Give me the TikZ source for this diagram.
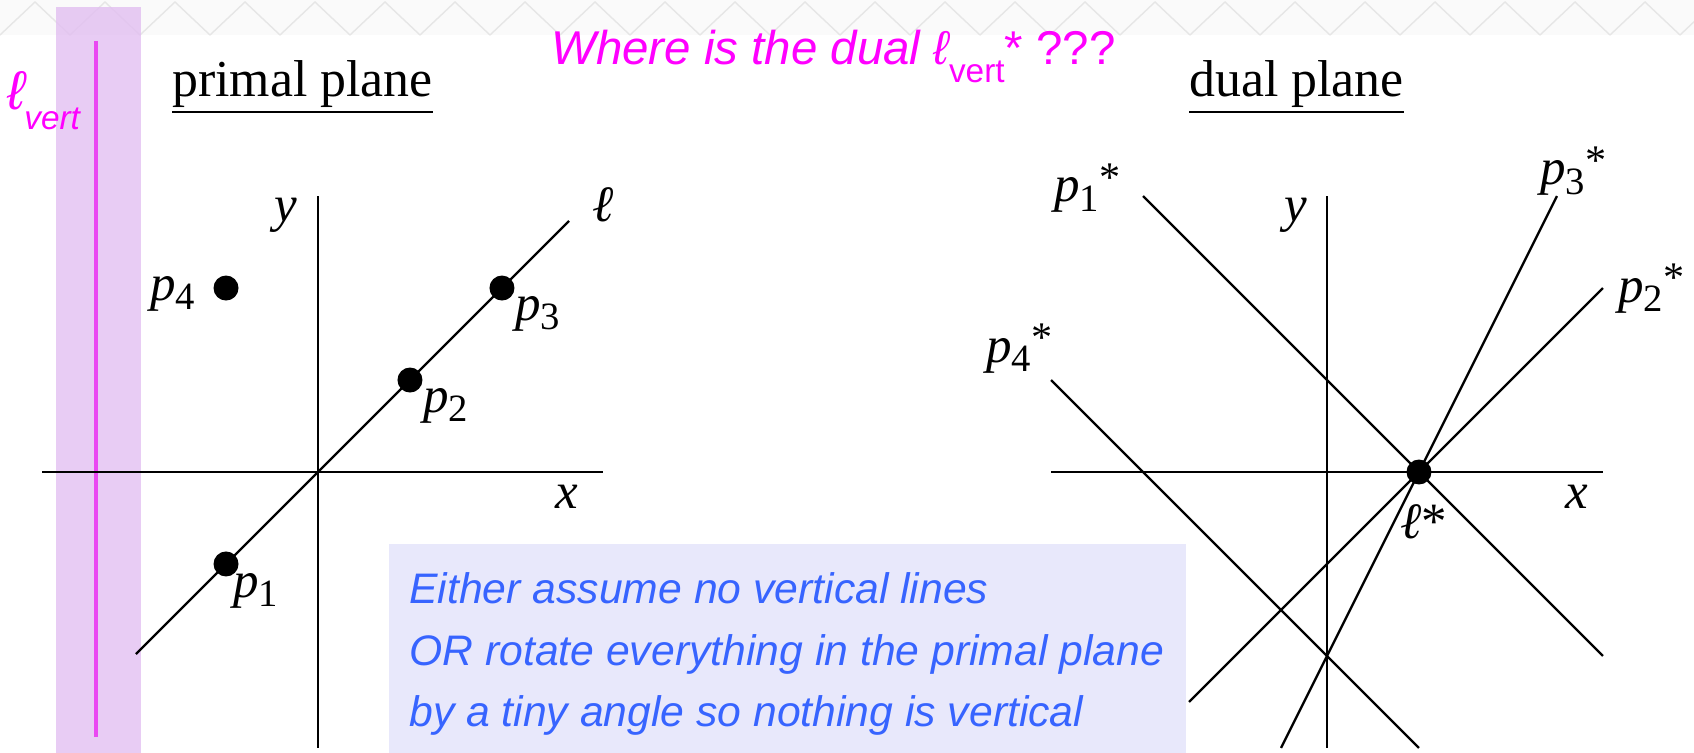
\documentclass[tikz,border=0pt]{standalone}
\usepackage{fontspec}
\setmainfont{Liberation Serif}
\setsansfont{Liberation Sans}
\usetikzlibrary{positioning}

\definecolor{slidegray}{RGB}{250,250,250}
\definecolor{patterngray}{RGB}{230,230,230}
\definecolor{vertband}{RGB}{226,191,241}
\definecolor{vertline}{RGB}{234,72,242}
\definecolor{asktext}{RGB}{255,0,255}
\definecolor{notebox}{RGB}{232,232,251}
\definecolor{notetext}{RGB}{55,100,255}

\newcommand{\plab}[2]{\textit{#1}\raisebox{-0.18em}{\fontsize{22}{22}\selectfont #2}}
\newcommand{\pstar}{\raisebox{6pt}{\fontsize{24}{24}\selectfont *}}

\begin{document}
\begin{tikzpicture}[
    x=0.02cm, y=-0.02cm,
    axis/.style={line width=1.3pt, black},
    dualline/.style={line width=1.3pt, black},
    dot/.style={circle, fill=black, inner sep=0pt, minimum size=0.5cm},
    lbl/.style={anchor=base west, inner sep=0pt, font=\fontsize{29}{30}\selectfont},
    heading/.style={anchor=base west, inner xsep=0pt, inner ysep=2pt, font=\fontsize{29.5}{30}\selectfont},
    ask/.style={anchor=base west, inner sep=0pt, text=asktext, font=\sffamily\itshape\fontsize{27}{30}\selectfont},
    note/.style={anchor=base west, inner sep=0pt, text=notetext, font=\sffamily\itshape\fontsize{24.3}{30}\selectfont},
]
    \useasboundingbox (0,0) rectangle (1694,753);

    % --- slide band at the top ---
    \fill[slidegray] (0,0) rectangle (1694,35);
    \foreach \i in {0,...,24}
        \draw[patterngray, line width=0.8pt] (\i*70,35) -- (\i*70+35,2) -- (\i*70+70,35);

    % --- vertical line l_vert ---
    \fill[vertband, fill opacity=0.8] (56,7) rectangle (141,753);
    \coordinate (lvtop) at (96,41);
    \coordinate (lvbot) at (96,737);
    \draw[vertline, line width=2.3pt] (lvtop) -- (lvbot);
    \node[ask, font=\sffamily\itshape\fontsize{31}{30}\selectfont] (lvell) at (7,110) {ℓ};
    \node[ask, font=\sffamily\itshape\fontsize{19}{20}\selectfont] (lvsub) at (24,130) {vert};

    % --- headings ---
    \node[heading] (primal) at (172,97) {primal plane};
    \draw[line width=1.3pt] (primal.south west) -- (primal.south east);
    \node[heading] (dual) at (1189,97) {dual plane};
    \draw[line width=1.3pt] (dual.south west) -- (dual.south east);
    \node[ask] (question) at (551,65)
        {Where is the dual ℓ\raisebox{-10pt}{\upshape\fontsize{19}{19}\selectfont vert}\upshape* ???};

    % --- Primal plane ---
    \begin{scope}[shift={(318,472)}, x=1.84cm, y=1.84cm]
        \coordinate (pxL) at (-3,0);
        \coordinate (pxR) at (3.1,0);
        \coordinate (pyB) at (0,-3);
        \coordinate (pyT) at (0,3);
        \coordinate (lA) at (-1.98,-1.98);
        \coordinate (lB) at (2.73,2.73);
        \draw[axis] (pxL) -- (pxR);
        \draw[axis] (pyB) -- (pyT);
        \draw[axis] (lA) -- (lB);
        \node[dot] (p1) at (-1,-1) {};
        \node[dot] (p2) at (1,1) {};
        \node[dot] (p3) at (2,2) {};
        \node[dot] (p4) at (-1,2) {};
    \end{scope}
    \node[lbl] (p1lab) at (233,597) {\plab{p}{1}};
    \node[lbl] (p2lab) at (423,412) {\plab{p}{2}};
    \node[lbl] (p3lab) at (515,320) {\plab{p}{3}};
    \node[lbl] (p4lab) at (150,300) {\plab{p}{4}};
    \node[lbl] (pylab) at (274,222) {\textit{y}};
    \node[lbl] (pxlab) at (555,508) {\textit{x}};
    \node[lbl] (llab) at (592,222) {\textit{ℓ}};

    % --- Dual plane ---
    \begin{scope}[shift={(1327,472)}, x=1.84cm, y=1.84cm]
        \coordinate (dxL) at (-3,0);
        \coordinate (dxR) at (3,0);
        \coordinate (dyB) at (0,-3);
        \coordinate (dyT) at (0,3);
        \coordinate (d1a) at (-2,3);     \coordinate (d1b) at (3,-2);
        \coordinate (d2a) at (-1.5,-2.5); \coordinate (d2b) at (3,2);
        \coordinate (d3a) at (-0.5,-3);  \coordinate (d3b) at (2.5,3);
        \coordinate (d4a) at (-3,1);     \coordinate (d4b) at (1,-3);
        \draw[axis] (dxL) -- (dxR);
        \draw[axis] (dyB) -- (dyT);
        \draw[dualline] (d1a) -- (d1b);
        \draw[dualline] (d2a) -- (d2b);
        \draw[dualline] (d3a) -- (d3b);
        \draw[dualline] (d4a) -- (d4b);
        \node[dot] (lstar) at (1,0) {};
    \end{scope}
    \node[lbl] (d1lab) at (1054,202) {\plab{p}{1}\pstar};
    \node[lbl] (d2lab) at (1618,302) {\plab{p}{2}\pstar};
    \node[lbl] (d3lab) at (1540,185) {\plab{p}{3}\pstar};
    \node[lbl] (d4lab) at (986,362) {\plab{p}{4}\pstar};
    \node[lbl] (dylab) at (1284,222) {\textit{y}};
    \node[lbl] (dxlab) at (1565,508) {\textit{x}};
    \node[lbl] (lstarlab) at (1400,538) {\textit{ℓ}*};

    % --- note box ---
    \fill[notebox] (389,544) rectangle (1186,753);
    \node[note] (note1) at (409,603) {Either assume no vertical lines};
    \node[note] (note2) at (409,665) {OR rotate everything in the primal plane};
    \node[note] (note3) at (409,726) {by a tiny angle so nothing is vertical};

\end{tikzpicture}
\end{document}
